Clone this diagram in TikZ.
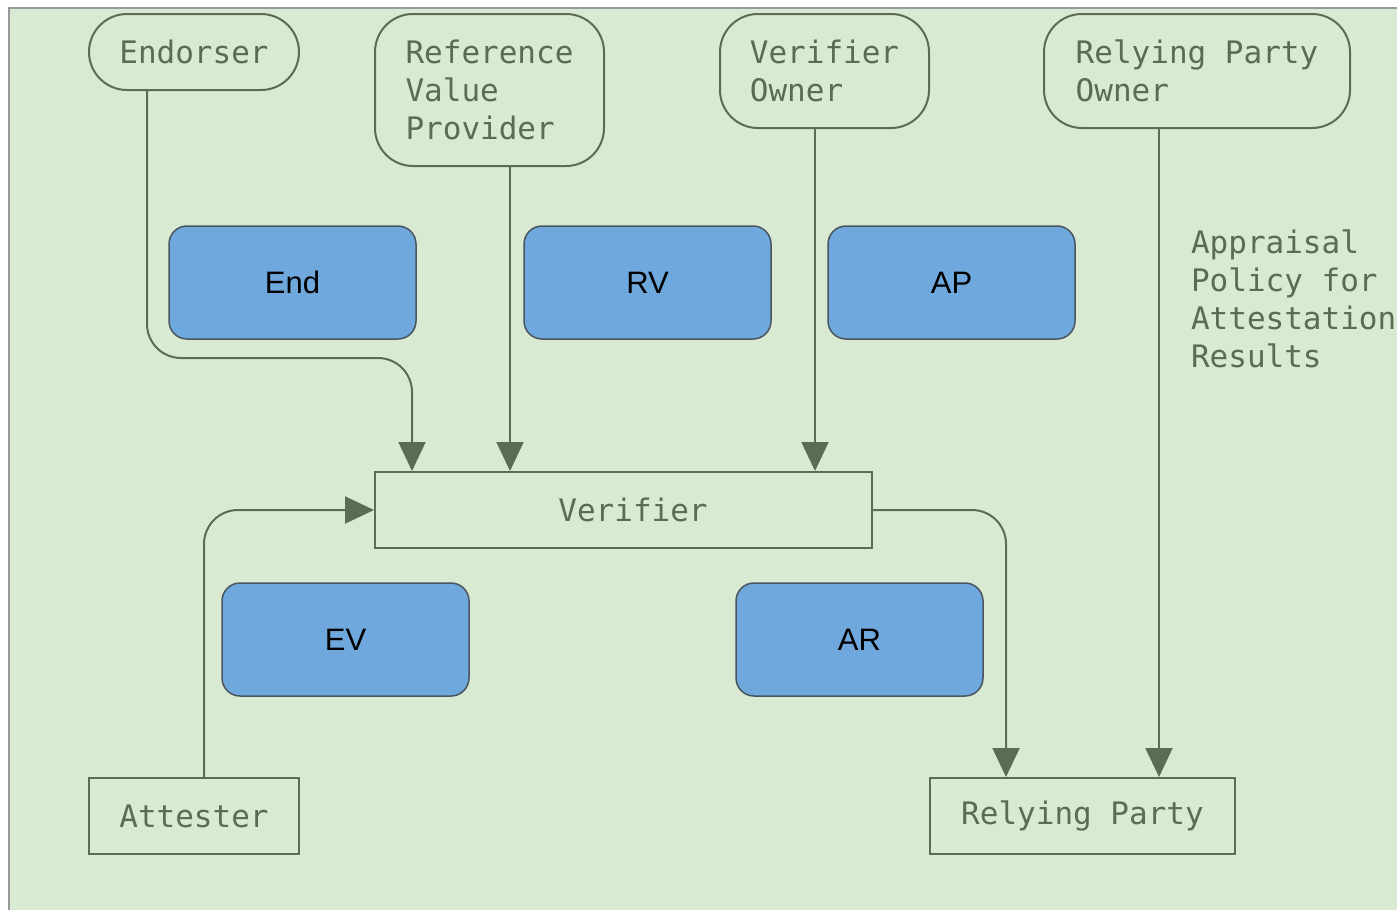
\documentclass[tikz,border=0pt]{standalone}
\usepackage{fontspec}
\setmainfont{Liberation Sans}
\newfontfamily\monofam{DejaVu Sans Mono}
\usetikzlibrary{arrows.meta}
\definecolor{bggreen}{HTML}{D9EAD3}
\definecolor{linegreen}{HTML}{5B6C52}
\definecolor{boxblue}{HTML}{6FA8DC}
\definecolor{boxedge}{HTML}{4A5560}

\begin{document}
\begin{tikzpicture}[x =0.5pt ,y =-0.5pt ,line width =1pt ,
role/.style ={ draw =linegreen , text =linegreen ,
font =\monofam\fontsize{15.5}{19}\selectfont , align =left , inner sep =0pt},
owner/.style ={ role , rounded corners =19pt},
msg/.style ={ draw =boxedge , fill =boxblue , rounded corners =9pt , line width =0.75pt ,
minimum width =123.5pt , minimum height =56.5pt , font =\fontsize{15.5}{19}\selectfont},
flow/.style ={ draw =linegreen , rounded corners =17pt ,
-{Triangle[length =14.5pt ,width =13.5pt]}}]
\useasboundingbox (0,0) rectangle (1397,910);
\fill[bggreen] (9,8) rectangle (1397,910);
\draw[gray!80 ,line width =0.75pt] (9,910) -- (9,8) -- (1397,8);
\node[owner ,minimum width =105pt ,minimum height =38pt] (endorser) at (194,52) {Endorser};
\node[owner ,minimum width =114.5pt ,minimum height =76pt] (refval) at (489.5,90) {Reference\\Value\\Provider};
\node[owner ,minimum width =104.5pt ,minimum height =57pt] (verowner) at (824.5,71) {Verifier\\Owner};
\node[owner ,minimum width =153pt ,minimum height =57pt] (rpowner) at (1197,71) {Relying Party\\Owner};
\node[msg] (End) at (292.5,282.5) {End};
\node[msg] (RV) at (647.5,282.5) {RV};
\node[msg] (AP) at (951.5,282.5) {AP};
\node[role ,draw =none ,anchor =west] (policy) at (1190,299) {Appraisal\\Policy for\\Attestation\\Results};
\node[role ,minimum width =248.5pt ,minimum height =38pt] (verifier) at (623.5,510) {\hspace*{9.5pt}Verifier};
\node[msg] (EV) at (345.5,639.5) {EV};
\node[msg] (AR) at (859.5,639.5) {AR};
\node[role ,minimum width =105pt ,minimum height =38pt] (attester) at (194,816) {Attester};
\node[role ,minimum width =152.5pt ,minimum height =38pt] (rp) at (1082.5,816) {Relying Party};
\draw[flow] ([xshift =-23.5pt]endorser.south) -- ++(0,267) -| ([xshift =19pt]verifier.north west);
\draw[flow] ([xshift =10.25pt]refval.south) -- ([xshift =10.25pt]refval.south |- verifier.north);
\draw[flow] ([xshift =-4.75pt]verowner.south) -- ([xshift =-4.75pt]verowner.south |- verifier.north);
\draw[flow] ([xshift =-19pt]rpowner.south) -- ([xshift =-19pt]rpowner.south |- rp.north);
\draw[flow] ([xshift =5pt]attester.north) |- (verifier.west);
\draw[flow] (verifier.east) -| ([xshift =-38.25pt]rp.north);
\end{tikzpicture}
\end{document}
